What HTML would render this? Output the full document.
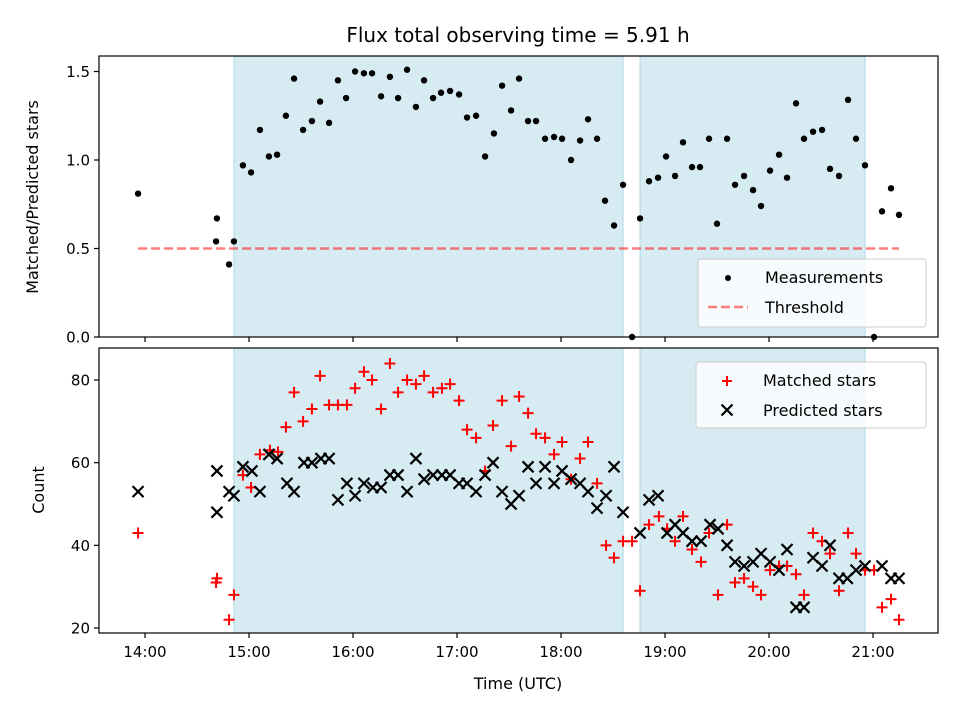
<!DOCTYPE html>
<html><head><meta charset="utf-8"><style>
body{margin:0;background:#fff;}
svg{display:block;font-family:"DejaVu Sans","Liberation Sans",sans-serif;}
</style></head><body>
<svg id="chart" width="960" height="720" viewBox="0 0 960 720" xmlns="http://www.w3.org/2000/svg">
<rect width="960" height="720" fill="#fff"/>
<text x="518" y="42" font-size="20" text-anchor="middle">Flux total observing time = 5.91 h</text>
<g id="top"></g><g id="bot"></g>
</svg>
<script>
// times in minutes after 14:00 UTC
const topTimes=[-4,41.5,41,48.5,51.3,56.5,61.2,66.3,71.5,76.2,81.3,86,91.2,96.3,101,106.2,111.3,116,121.2,126.3,131,136.2,141.3,146,151.2,156.3,161,166.2,170.8,176,181.2,185.8,191,196.2,201.3,206,211.2,215.8,221,225.6,230.8,236,240.6,245.8,251,255.6,260.8,265.4,270.6,275.8,281,285.6,290.8,296,300.6,305.8,310.4,315.6,320.2,325.4,330,335.8,340.4,345.6,350.8,355.4,360.6,365.8,370.4,375.6,380.2,385.4,390.6,395.2,400.4,405.6,410.2,415.4,420.6,425.2,430.4,435];
const topValues=[0.81,0.67,0.54,0.41,0.54,0.97,0.93,1.17,1.02,1.03,1.25,1.46,1.17,1.22,1.33,1.21,1.45,1.35,1.50,1.49,1.49,1.36,1.47,1.35,1.51,1.30,1.45,1.35,1.38,1.39,1.37,1.24,1.25,1.02,1.15,1.42,1.28,1.46,1.22,1.22,1.12,1.13,1.12,1.00,1.11,1.23,1.12,0.77,0.63,0.86,0.00,0.67,0.88,0.90,1.02,0.91,1.10,0.96,0.96,1.12,0.64,1.12,0.86,0.91,0.83,0.74,0.94,1.03,0.90,1.32,1.12,1.16,1.17,0.95,0.91,1.34,1.12,0.97,0.00,0.71,0.84,0.69];
const threshold=0.5;
const spans=[[51.3,275.8],[285.6,415.4]];
const matchedTimes=[-4,41,41.5,48.5,51.3,56.5,61.2,66.3,72.1,76.7,81.3,86,91.2,96.3,101,106.2,111.3,116.5,121.2,126.3,131,136.2,141.3,146,151.2,156.3,161,166.2,171.3,176,181.2,185.8,191,196.2,200.8,206,211.2,215.8,221,225.6,230.8,236,240.6,245.8,251,255.6,260.8,266,270.6,275.8,281,285.6,290.8,296.5,301.2,305.8,310.4,315.6,320.8,325.4,330.6,335.8,340.4,345.6,350.8,355.4,360.6,365.8,370.4,375.6,380.2,385.4,390.6,395.2,400.4,405.6,410.2,415.4,420.6,425.2,430.4,435];
const matchedCounts=[43,31,32,22,28,57,54,62,63,62.6,68.6,77,70,73,81,74,74,74,78,82,80,73,84,77,80,79,81,77,78,79,75,68,66,58,69,75,64,76,72,67,66,62,65,56,61,65,55,40,37,41,41,29,45,47,44,41,47,39,36,43,28,45,31,32,30,28,34,35,35,33,28,43,41,38,29,43,38,34,34,25,27,22];
const predTimes=[-4,41.5,41.5,48.5,51.3,56.5,61.7,66.3,71.5,76.2,81.9,86,91.7,96.3,101.5,106.2,111.3,116.5,121.2,126.3,131.5,136.2,141.3,146,151.2,156.3,161,166.2,171.3,176,181.2,185.8,191,196.2,200.8,206,211.2,215.8,221,225.6,230.8,236,240.6,245.8,251,255.6,260.8,266,270.6,275.8,285.6,290.8,296,301.2,305.8,310.4,315.6,320.8,326,330.6,335.8,340.4,345.6,350.8,355.4,360.6,365.8,370.4,375.6,380.2,385.4,390.6,395.2,400.4,405.2,410.2,415.4,425.2,430.4,435];
const predCounts=[53,58,48,53,52,59,58,53,62,61,55,53,60,60,61,61,51,55,52,55,54,54,57,57,53,61,56,57,57,57,55,55,53,57,60,53,50,52,59,55,59,55,58,56,55,53,49,52,59,48,43,51,52,43,45,43,41,41,45,44,40,36,35,36,38,36,34,39,25,25,37,35,40,32,32,34,35,35,32,32];
const xTicks=[0,60,120,180,240,300,360,420];
const xTickLabels=["14:00","15:00","16:00","17:00","18:00","19:00","20:00","21:00"];
const topYTicks=[0,0.5,1.0,1.5];
const topYLabels=["0.0","0.5","1.0","1.5"];
const botYTicks=[20,40,60,80];

const NS="http://www.w3.org/2000/svg";
const L=99,R=938;
const xs=m=>145+m*104/60;
const yTop=v=>337-v*177;
const yBot=c=>628-(c-20)*4.133;
function mk(parent,tag,attrs,text){const e=document.createElementNS(NS,tag);for(const k in attrs)e.setAttribute(k,attrs[k]);if(text!==undefined)e.textContent=text;parent.appendChild(e);return e;}

function panel(g,top,bottom,yFn,yTicks,yLabels,showX){
  spans.forEach(s=>{
    const r=mk(g,'rect',{x:xs(s[0]),y:top,width:xs(s[1])-xs(s[0]),height:bottom-top,fill:'#add8e6','fill-opacity':0.5,stroke:'#add8e6','stroke-width':1});
    
    
  });
  yTicks.forEach((t,i)=>{
    const y=yFn(t);
    mk(g,'line',{x1:L-5,x2:L,y1:y,y2:y,stroke:'#000','stroke-width':1.2});
    const tx=mk(g,'text',{x:L-9,y:y+5.5,'font-size':15,'text-anchor':'end'},yLabels[i]);
    
    
  });
  xTicks.forEach((t,i)=>{
    const x=xs(t);
    mk(g,'line',{x1:x,x2:x,y1:bottom,y2:bottom+5,stroke:'#000','stroke-width':1.2});
    if(showX){
      const tx=mk(g,'text',{x:x,y:bottom+24,'font-size':15,'text-anchor':'middle'},xTickLabels[i]);
      
      
    }
  });
}

const gt=document.getElementById('top');
panel(gt,56,337,yTop,topYTicks,topYLabels,false);
const th=mk(gt,'line',{x1:xs(topTimes[0]),x2:xs(topTimes[topTimes.length-1]),y1:yTop(threshold),y2:yTop(threshold),stroke:'#ff0000','stroke-opacity':0.5,'stroke-width':2.4,'stroke-dasharray':'9,4'});


topTimes.forEach((t,i)=>{
  const c=mk(gt,'circle',{cx:xs(t),cy:yTop(topValues[i]),r:3.2,fill:'#000'});
  
  
});
const f1=mk(gt,'rect',{x:L,y:56,width:R-L,height:281,fill:'none',stroke:'#000','stroke-width':1.2});



const gb=document.getElementById('bot');
panel(gb,348,633,yBot,botYTicks,botYTicks.map(String),true);
matchedTimes.forEach((t,i)=>{
  const x=xs(t),y=yBot(matchedCounts[i]);
  const p=mk(gb,'path',{d:`M${x-5.5},${y}H${x+5.5}M${x},${y-5.5}V${y+5.5}`,stroke:'#ff0000','stroke-width':2});
  
  
});
predTimes.forEach((t,i)=>{
  const x=xs(t),y=yBot(predCounts[i]);
  const p=mk(gb,'path',{d:`M${x-5.5},${y-5.5}L${x+5.5},${y+5.5}M${x-5.5},${y+5.5}L${x+5.5},${y-5.5}`,stroke:'#000','stroke-width':2.2});
  
  
});
const f2=mk(gb,'rect',{x:L,y:348,width:R-L,height:285,fill:'none',stroke:'#000','stroke-width':1.2});


</script>
<svg style="position:absolute;left:0;top:0" width="960" height="720">
<text transform="translate(38,197) rotate(-90)" font-size="16" text-anchor="middle" font-family="DejaVu Sans, Liberation Sans, sans-serif">Matched/Predicted stars</text>
<text transform="translate(44,490) rotate(-90)" font-size="16" text-anchor="middle" font-family="DejaVu Sans, Liberation Sans, sans-serif">Count</text>
<text x="518" y="689" font-size="16" text-anchor="middle" font-family="DejaVu Sans, Liberation Sans, sans-serif">Time (UTC)</text>
<g font-family="DejaVu Sans, Liberation Sans, sans-serif" font-size="16">
<rect x="698" y="259" width="228" height="68" rx="3" fill="#fff" fill-opacity="0.8" stroke="#ccc"/>
<circle cx="728" cy="278" r="3" fill="#000"/>
<text x="765" y="283">Measurements</text>
<line x1="708" x2="748" y1="307" y2="307" stroke="#ff0000" stroke-opacity="0.5" stroke-width="2.4" stroke-dasharray="9,4"/>
<text x="765" y="313">Threshold</text>
</g>
<g font-family="DejaVu Sans, Liberation Sans, sans-serif" font-size="16">
<rect x="696" y="362" width="230" height="66" rx="3" fill="#fff" fill-opacity="0.8" stroke="#ccc"/>
<path d="M722,381H732M727,376V386" stroke="#ff0000" stroke-width="2"/>
<text x="763" y="386">Matched stars</text>
<path d="M721.5,404.5L732.5,415.5M721.5,415.5L732.5,404.5" stroke="#000" stroke-width="2.2"/>
<text x="763" y="416">Predicted stars</text>
</g>
</svg>
</body></html>
